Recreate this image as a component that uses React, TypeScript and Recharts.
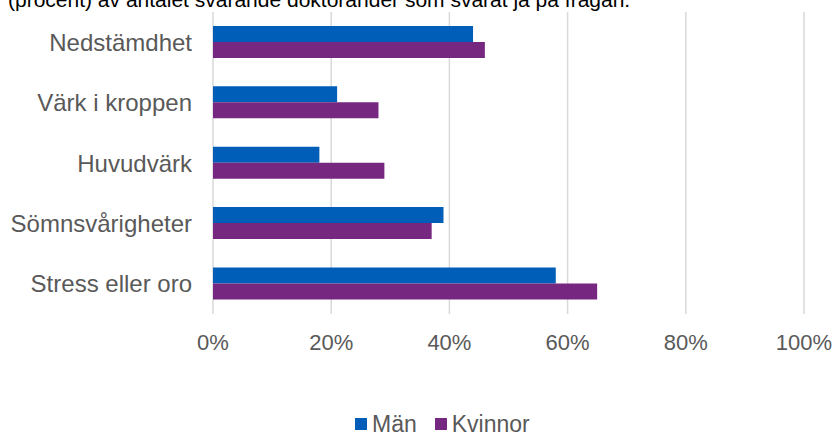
import { BarChart, Bar, XAxis, YAxis, CartesianGrid, Legend } from 'recharts';

const categories = ['Nedstämdhet', 'Värk i kroppen', 'Huvudvärk', 'Sömnsvårigheter', 'Stress eller oro'];
const man = [44, 21, 18, 39, 58];
const kvinnor = [46, 28, 29, 37, 65];
const ticks = [0, 20, 40, 60, 80, 100];
const seriesOrder = ['Män', 'Kvinnor'];

const data = categories.map((c, i) => ({ name: c, man: man[i], kvinnor: kvinnor[i] }));

const FONT = '"Liberation Sans", Arial, sans-serif';
const GREY = '#595959';

function LegendBox({ payload }: any) {
    const items = (payload || []).slice().sort(
        (a: any, b: any) => seriesOrder.indexOf(a.value) - seriesOrder.indexOf(b.value)
    );
    return (
        <div style={{ display: 'flex', fontFamily: FONT, fontSize: 23, color: GREY, lineHeight: '22px' }}>
            {items.map((p: any, i: number) => (
                <div key={i} style={{ display: 'flex', alignItems: 'center', marginRight: 18 }}>
                    <span style={{ width: 12, height: 12, background: p.color, display: 'inline-block', marginRight: 5 }} />
                    <span>{p.value}</span>
                </div>
            ))}
        </div>
    );
}

export default function App() {
    return (
        <div style={{ position: 'absolute', left: 0, top: 0, width: 835, height: 433, overflow: 'hidden', background: '#fff' }}>
            <div style={{ position: 'absolute', left: 8, top: -12, fontFamily: FONT, fontSize: 21, color: '#000', whiteSpace: 'nowrap' }}>
                (procent) av antalet svarande doktorander som svarat ja på frågan.
            </div>
            <BarChart
                width={835}
                height={433}
                data={data}
                layout="vertical"
                margin={{ top: 12, right: 31, bottom: 89, left: 0 }}
                barGap={0}
                barCategoryGap="23%"
            >
                <CartesianGrid horizontal={false} stroke="#d9d9d9" strokeWidth={1.5} />
                <XAxis
                    type="number"
                    domain={[0, 100]}
                    ticks={ticks}
                    tickFormatter={(v: number) => v + '%'}
                    axisLine={false}
                    tickLine={false}
                    tickSize={0}
                    tickMargin={20}
                    height={30}
                    tick={{ fill: GREY, fontSize: 22, fontFamily: FONT }}
                    interval={0}
                />
                <YAxis
                    type="category"
                    dataKey="name"
                    width={213}
                    axisLine={false}
                    tickLine={false}
                    tickSize={0}
                    tickMargin={21}
                    tick={{ fill: GREY, fontSize: 24, fontFamily: FONT }}
                    interval={0}
                />
                <Legend
                    layout="horizontal"
                    verticalAlign="middle"
                    align="center"
                    content={<LegendBox />}
                    wrapperStyle={{ top: 413, left: 355, width: 300 }}
                />
                <Bar dataKey="man" name="Män" fill="#005EB8" isAnimationActive={false} />
                <Bar dataKey="kvinnor" name="Kvinnor" fill="#76277F" isAnimationActive={false} />
            </BarChart>
        </div>
    );
}
